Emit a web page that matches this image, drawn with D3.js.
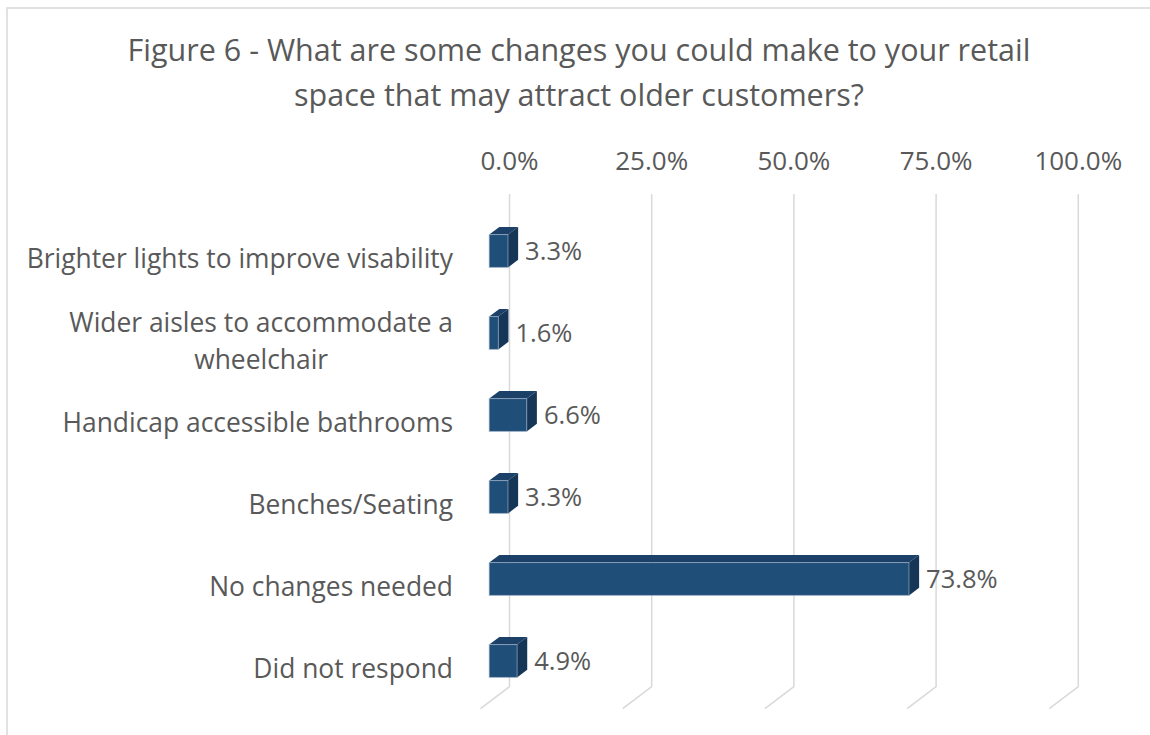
<!DOCTYPE html>
<html>
<head>
<meta charset="utf-8">
<script src="https://cdn.jsdelivr.net/npm/d3@7"></script>
<style>
  body { margin: 0; background: #fff; }
  svg { display: block; }
  text { font-family: "Open Sans", "Noto Sans", sans-serif; fill: #595959; }
</style>
</head>
<body>
<svg id="chart" width="1150" height="735"></svg>
<script>
// Survey responses (percent of respondents)
const categories = [
  "Brighter lights to improve visability",
  "Wider aisles to accommodate a wheelchair",
  "Handicap accessible bathrooms",
  "Benches/Seating",
  "No changes needed",
  "Did not respond"
];
const categoryLines = [
  ["Brighter lights to improve visability"],
  ["Wider aisles to accommodate a", "wheelchair"],
  ["Handicap accessible bathrooms"],
  ["Benches/Seating"],
  ["No changes needed"],
  ["Did not respond"]
];
const values = [3.3, 1.6, 6.6, 3.3, 73.8, 4.9];
const tickValues = [0, 25, 50, 75, 100];
const titleLines = [
  "Figure 6 - What are some changes you could make to your retail",
  "space that may attract older customers?"
];

const svg = d3.select("#chart");
const W = 1150, H = 735;

// Back-wall geometry and the oblique depth vector of the 3D floor
const wallTop = 194, wallBottom = 686.7;
const depth = { dx: -29, dy: 22 };
const frontDepth = 0.7, backDepth = 0.35;

const x = d3.scaleLinear().domain([0, 100]).range([509.5, 1078.3]);
const y = d3.scaleBand().domain(categories).range([210, 702])
  .paddingInner(0.6).paddingOuter(0.3);

// Chart area border (left and top edges)
svg.append("path")
  .attr("d", `M7,${H} L7,8 L${W},8`)
  .attr("fill", "none")
  .attr("stroke", "#d9d9d9")
  .attr("stroke-width", 1.5);

// Title
svg.append("g").selectAll("text").data(titleLines).join("text")
  .attr("x", 579)
  .attr("y", (d, i) => 61 + i * 45)
  .attr("text-anchor", "middle")
  .attr("font-size", 30.5)
  .text(d => d);

// Vertical gridlines on the back wall, with a floor segment
svg.append("g").selectAll("path").data(tickValues).join("path")
  .attr("d", t => `M${x(t)},${wallTop} L${x(t)},${wallBottom} L${x(t) + depth.dx},${wallBottom + depth.dy}`)
  .attr("fill", "none")
  .attr("stroke", "#d9d9d9")
  .attr("stroke-width", 1.5);

// Axis tick labels along the top
svg.append("g").selectAll("text").data(tickValues).join("text")
  .attr("x", t => x(t))
  .attr("y", 170)
  .attr("text-anchor", "middle")
  .attr("font-size", 26)
  .text(t => d3.format(".1f")(t) + "%");

// 3D bars
const fdx = frontDepth * depth.dx;
const bdx = (backDepth - frontDepth) * depth.dx;
const bdy = (backDepth - frontDepth) * depth.dy;

const rows = categories.map((c, i) => ({ c, v: values[i], lines: categoryLines[i] }));
const bars = svg.append("g").selectAll("g").data(rows).join("g");

bars.each(function (d) {
  const g = d3.select(this);
  const x0 = x(0) + fdx, x1 = x(d.v) + fdx;
  const yt = y(d.c), yb = y(d.c) + y.bandwidth();
  g.append("polygon")
    .attr("points", [[x0, yt], [x1, yt], [x1 + bdx, yt + bdy], [x0 + bdx, yt + bdy]].join(" "))
    .attr("fill", "#1b4169");
  g.append("polygon")
    .attr("points", [[x1, yt], [x1 + bdx, yt + bdy], [x1 + bdx, yb + bdy], [x1, yb]].join(" "))
    .attr("fill", "#163657");
  g.append("rect")
    .attr("x", x0).attr("y", yt)
    .attr("width", x1 - x0).attr("height", yb - yt)
    .attr("fill", "#1f4e79")
    .attr("stroke", "#9fb3c8")
    .attr("stroke-opacity", 0.6)
    .attr("stroke-width", 1);
  // value label beside the bar
  g.append("text")
    .attr("x", x1 + bdx + 7)
    .attr("y", yt + y.bandwidth() / 2)
    .attr("dy", "0.35em")
    .attr("font-size", 25.5)
    .text(d3.format(".1f")(d.v) + "%");
});

// Category labels, right-aligned; wrapped labels are centred in their box
const labelRight = 453, lineGap = 37;
const labels = svg.append("g").selectAll("text").data(rows).join("text")
  .attr("font-size", 26.4);
labels.each(function (d) {
  const t = d3.select(this);
  const cy = y(d.c) + y.bandwidth() / 2 + 8;
  const n = d.lines.length;
  d.lines.forEach((line, i) => {
    t.append("tspan")
      .attr("y", cy + (i - (n - 1) / 2) * lineGap)
      .attr("dy", "0.35em")
      .text(line);
  });
  if (n === 1) {
    t.attr("text-anchor", "end").selectAll("tspan").attr("x", labelRight);
  } else {
    const w = d3.max(t.selectAll("tspan").nodes(), s => s.getComputedTextLength());
    t.attr("text-anchor", "middle").selectAll("tspan").attr("x", labelRight - w / 2);
  }
});
</script>
</body>
</html>
